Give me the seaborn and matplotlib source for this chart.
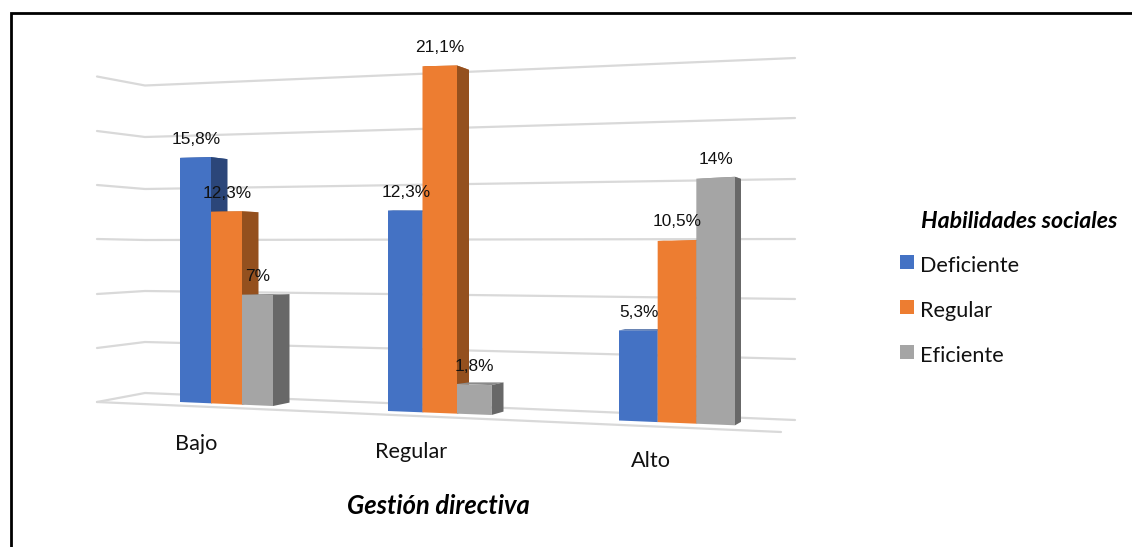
import numpy as np
import pandas as pd
import matplotlib
matplotlib.use("Agg")
import matplotlib.pyplot as plt
import matplotlib.transforms as mtransforms
from matplotlib.patches import Polygon, Patch
import seaborn as sns

# Survey results, percent of respondents
niveles = ["Bajo", "Regular", "Alto"]
deficiente = [15.8, 12.3, 5.3]
regular = [12.3, 21.1, 10.5]
eficiente = [7.0, 1.8, 14.0]
etiquetas_deficiente = ["15,8%", "12,3%", "5,3%"]
etiquetas_regular = ["12,3%", "21,1%", "10,5%"]
etiquetas_eficiente = ["7%", "1,8%", "14%"]
series = ["Deficiente", "Regular", "Eficiente"]

COLORES = {"Deficiente": "#4472C4", "Regular": "#ED7D31", "Eficiente": "#A5A5A5"}
COLOR_LADO = {"Deficiente": "#2B4679", "Regular": "#94501E", "Eficiente": "#686868"}
COLOR_TAPA = {"Deficiente": "#2F5597", "Regular": "#B8601F", "Eficiente": "#8A8A8A"}
GRID = "#D9D9D9"

# Perspective of the 3D floor: pixel span, floor line and vertical scale per group
BAR_WIDTH = 0.9
GROUP_X = [(180.0, 273.0), (388.0, 491.5), (619.0, 735.0)]
GROUP_BASE = [(402.0, 406.0), (411.0, 415.0), (420.5, 425.3)]
GROUP_SCALE = [(15.45, 15.85), (16.3, 16.6), (17.0, 17.75)]
GROUP_DEPTH = [16.5, 12.0, 6.0]
BACK_SHRINK = 0.978
BACK_RISE = 3.4


class FloorProjection(mtransforms.Transform):
    """Map (category position, percent) onto the slanted floor in pixels."""

    input_dims = 2
    output_dims = 2
    is_separable = False
    has_inverse = False

    def transform_non_affine(self, values):
        values = np.asarray(values, dtype=float)
        out = np.empty_like(values)
        for row, (x, v) in enumerate(values):
            g = int(np.clip(np.round(x), 0, 2))
            t = (x - (g - BAR_WIDTH / 2)) / BAR_WIDTH
            px = GROUP_X[g][0] + t * (GROUP_X[g][1] - GROUP_X[g][0])
            base = GROUP_BASE[g][0] + t * (GROUP_BASE[g][1] - GROUP_BASE[g][0])
            scale = GROUP_SCALE[g][0] + t * (GROUP_SCALE[g][1] - GROUP_SCALE[g][0])
            out[row] = px, base - v * scale
        return out


sns.set_theme(style="white")
plt.rcParams["font.family"] = ["Lato", "DejaVu Sans"]

tabla = pd.DataFrame({
    "nivel": niveles * 3,
    "serie": np.repeat(series, 3),
    "valor": deficiente + regular + eficiente,
    "etiqueta": etiquetas_deficiente + etiquetas_regular + etiquetas_eficiente,
})

fig = plt.figure(figsize=(11.32, 5.47), dpi=100, facecolor="white")
ax = fig.add_axes([0, 0, 1, 1])

sns.barplot(
    data=tabla, x="nivel", y="valor", hue="serie", order=niveles, hue_order=series,
    palette=COLORES, width=BAR_WIDTH, saturation=1, errorbar=None, legend=False,
    linewidth=0, ax=ax,
)

# Everything else on this axes is placed in pixel space
ax.set_xlim(0, 1132)
ax.set_ylim(547, 0)
ax.axis("off")

# Wall and floor grid
pared_izq = [76.5, 131, 185, 239, 294, 348, 402]
pared_esq = [85.5, 137, 189, 240, 291, 342, 393]
pared_der = [58, 118, 179, 239, 299, 359, 420]
for a, b, c in zip(pared_izq, pared_esq, pared_der):
    ax.plot([97, 145, 795], [a, b, c], color=GRID, lw=1.6, zorder=1, solid_joinstyle="miter")
ax.plot([97, 781], [402, 432], color=GRID, lw=1.6, zorder=1)

# Turn the flat bars into the front faces and add their side and top faces
proj = FloorProjection()
for s, (serie, cont) in enumerate(zip(series, ax.containers)):
    for bar in cont:
        x0, ancho, v = bar.get_x(), bar.get_width(), bar.get_height()
        g = int(np.round(x0 + ancho / 2))
        bar.set_transform(proj + ax.transData)
        bar.set_clip_on(False)
        bar.set_zorder(4 + 3 * s)

        (xb, yb), (xt, yt) = proj.transform(np.array([[x0 + ancho, 0.0], [x0 + ancho, v]]))
        (xl, yl) = proj.transform(np.array([[x0, v]]))[0]
        d = GROUP_DEPTH[g]
        back_b = yb - BACK_RISE
        back_t = back_b - (yb - yt) * BACK_SHRINK
        ax.add_patch(Polygon([(xl, yl), (xt, yt), (xt + d, back_t), (xl + d, back_t)],
                             closed=True, fc=COLOR_TAPA[serie], ec="none", zorder=2 + 3 * s))
        ax.add_patch(Polygon([(xt, yt), (xt + d, back_t), (xt + d, back_b), (xb, yb)],
                             closed=True, fc=COLOR_LADO[serie], ec="none", zorder=3 + 3 * s))

# Data labels sit a fixed distance above each bar
for s, serie in enumerate(series):
    filas = tabla[tabla["serie"] == serie]
    for g, (v, txt) in enumerate(zip(filas["valor"], filas["etiqueta"])):
        cx = g - BAR_WIDTH / 2 + BAR_WIDTH * (s + 0.5) / 3
        px, py = proj.transform(np.array([[cx, v]]))[0]
        ax.text(px + 0.5, py - 18.5, txt, ha="center", va="center", zorder=20,
                fontsize=12.4, color="#111111", family="Liberation Sans")

# Category labels follow the floor line
for nombre, px, py in zip(niveles, [196, 411, 651], [444, 452, 461]):
    ax.text(px, py, nombre, ha="center", va="center", fontsize=15.6, color="#111111")

ax.text(438.5, 506.5, "Gestión directiva", ha="center", va="center",
        fontsize=18.4, fontweight="bold", fontstyle="italic", color="black")
ax.text(1019, 222, "Habilidades sociales", ha="center", va="center",
        fontsize=16.7, fontweight="bold", fontstyle="italic", color="black")

# Legend swatches and names
manijas = [Patch(fc=COLORES[s], ec="none") for s in series]
ley = ax.legend(manijas, series, loc="upper left", bbox_to_anchor=(900 / 1132, 1 - 255.5 / 547),
                frameon=False, fontsize=15.6, labelspacing=1.155, handlelength=0.65,
                handleheight=0.65, handletextpad=0.28, borderpad=0, borderaxespad=0)
for t in ley.get_texts():
    t.set_color("#111111")
for h in ley.legend_handles:
    h.set_y(h.get_y() + 1.5)

# Top and left rules of the figure frame
ax.plot([10.5, 10.5, 1132], [547, 13, 13], color="black", lw=2.0, zorder=30,
        solid_joinstyle="miter", solid_capstyle="butt")

fig.savefig("out.png", dpi=100)
